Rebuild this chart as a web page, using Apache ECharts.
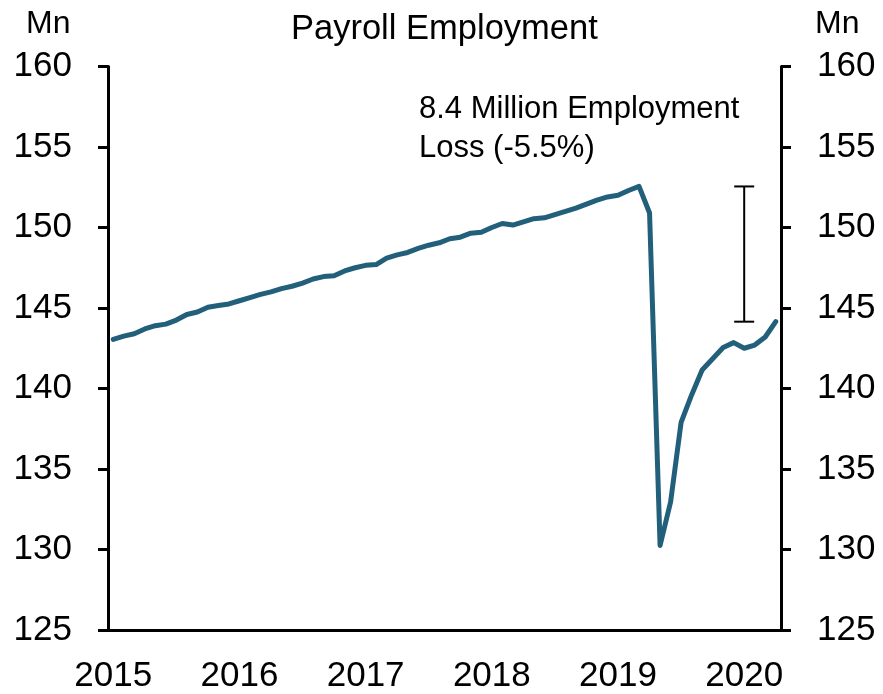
<!DOCTYPE html>
<html>
<head>
<meta charset="utf-8">
<script src="https://cdn.jsdelivr.net/npm/echarts@6/dist/echarts.min.js"></script>
<style>
  html, body { margin: 0; padding: 0; background: #fff; }
  #chart { width: 883px; height: 694px; }
</style>
</head>
<body>
<div id="chart"></div>
<script>
// Year labels shown under the axis (one per 12 monthly points)
const yearLabels = ['2015', '2016', '2017', '2018', '2019', '2020'];

// Payroll employment, millions, monthly
const payroll = [
  143.05, 143.25, 143.40, 143.70, 143.90, 144.00, 144.25, 144.60, 144.75, 145.05, 145.15, 145.25,
  145.45, 145.65, 145.85, 146.00, 146.20, 146.35, 146.55, 146.80, 146.95, 147.00, 147.30, 147.50,
  147.65, 147.70, 148.10, 148.30, 148.45, 148.70, 148.90, 149.05, 149.30, 149.40, 149.65, 149.70,
  150.00, 150.25, 150.15, 150.35, 150.55, 150.60, 150.80, 151.00, 151.20, 151.45, 151.70, 151.90,
  152.00, 152.30, 152.55, 150.90, 130.25, 132.95, 137.90, 139.60, 141.15, 141.85, 142.55, 142.85,
  142.50, 142.70, 143.20, 144.15
];

// Value axis range and step
const yMin = 125, yMax = 160, yStep = 5;

// Annotation text and where the loss bracket sits along the time axis
const noteLines = ['8.4 Million Employment', 'Loss (-5.5%)'];
const bracketAt = 60;

// Monthly category keys built from the year list
const months = [];
yearLabels.forEach(function (yr) {
  for (let m = 1; m <= 12; m++) months.push(yr + '-' + String(m).padStart(2, '0'));
});
months.length = payroll.length;

const peak = Math.max.apply(null, payroll);
const latest = payroll[payroll.length - 1];

const FONT = 'Liberation Sans, Arial, sans-serif';
const INK = '#000';
const LINE = '#215f7a';

function valueAxis(side) {
  return {
    type: 'value',
    position: side,
    min: yMin,
    max: yMax,
    interval: yStep,
    axisLine: { show: true, lineStyle: { color: INK, width: 3 } },
    axisTick: { show: true, length: 10, lineStyle: { color: INK, width: 3 } },
    axisLabel: { color: INK, fontSize: 35, fontFamily: FONT, margin: 36 },
    splitLine: { show: false }
  };
}

const chart = echarts.init(document.getElementById('chart'), null, { renderer: 'canvas' });

const headStyle = { color: INK, fontWeight: 'normal', fontFamily: FONT };

chart.setOption({
  animation: false,
  backgroundColor: '#fff',
  textStyle: { fontFamily: FONT },
  title: [
    { text: 'Payroll Employment', left: 291, top: 12, padding: 0,
      textStyle: Object.assign({ fontSize: 34.5 }, headStyle) },
    { text: 'Mn', left: 26, top: 8, padding: 0,
      textStyle: Object.assign({ fontSize: 32 }, headStyle) },
    { text: 'Mn', left: 815, top: 8, padding: 0,
      textStyle: Object.assign({ fontSize: 32 }, headStyle) }
  ],
  grid: { left: 108, right: 102, top: 66.5, bottom: 63, containLabel: false },
  xAxis: {
    type: 'category',
    data: months,
    boundaryGap: true,
    axisLine: { lineStyle: { color: INK, width: 3 } },
    axisTick: { interval: 11, length: 10, lineStyle: { color: INK, width: 3 } },
    axisLabel: {
      interval: 11,
      color: INK,
      fontSize: 35,
      fontFamily: FONT,
      margin: 29,
      formatter: function (v) { return v.slice(0, 4); }
    },
    splitLine: { show: false }
  },
  yAxis: [valueAxis('left'), valueAxis('right')],
  series: [
    {
      type: 'line',
      data: payroll,
      symbol: 'none',
      lineStyle: { color: LINE, width: 5, cap: 'round', join: 'round' },
      z: 3
    },
    {
      type: 'custom',
      data: [[bracketAt, peak, latest]],
      z: 4,
      renderItem: function (params, api) {
        const top = api.coord([api.value(0), api.value(1)]);
        const bot = api.coord([api.value(0), api.value(2)]);
        const half = 10;
        const st = { stroke: INK, lineWidth: 2 };
        return {
          type: 'group',
          children: [
            { type: 'line', shape: { x1: top[0], y1: top[1], x2: bot[0], y2: bot[1] }, style: st },
            { type: 'line', shape: { x1: top[0] - half, y1: top[1], x2: top[0] + half, y2: top[1] }, style: st },
            { type: 'line', shape: { x1: bot[0] - half, y1: bot[1], x2: bot[0] + half, y2: bot[1] }, style: st }
          ]
        };
      }
    }
  ],
  graphic: [
    {
      type: 'text',
      left: 419,
      top: 90,
      style: {
        text: noteLines.join('\n'),
        fill: INK,
        font: '31px ' + FONT,
        lineHeight: 39
      }
    }
  ]
});
</script>
</body>
</html>
